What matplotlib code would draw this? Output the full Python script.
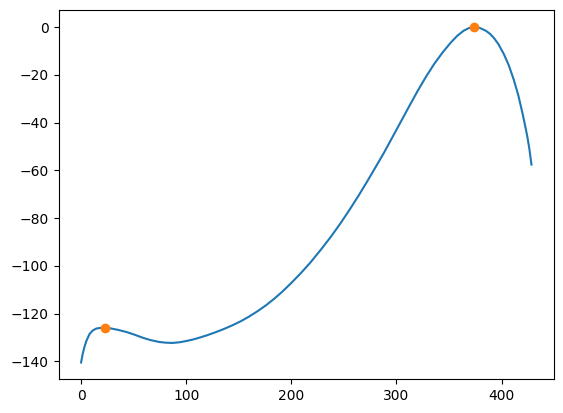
import numpy as np
import matplotlib.pyplot as plt

# curve
xs = [0, 1.5, 3.2, 5, 8, 11, 14.3, 18, 23, 28, 35, 43, 50, 58.6, 66, 74.4,
      81, 87, 94, 100, 107, 114, 120.4, 128, 136.2, 144, 152, 160, 167.9,
      176, 183.7, 191.5, 199.5, 209, 218, 228, 237.5, 246, 255, 264, 272.4,
      280, 288.2, 296, 304, 312, 320, 328, 336, 344, 351.5, 358, 364, 369,
      374, 379, 385, 389, 392.7, 397, 402.2, 407, 411.7, 416, 419.6, 422,
      424.4, 426.5, 428.5]
ys = [-140.5, -137.0, -134.0, -131.5, -128.6, -127.1, -126.3, -126.0, -125.9,
      -126.2, -126.8, -127.7, -128.7, -130.1, -131.1, -131.9, -132.2, -132.3,
      -132.0, -131.5, -130.8, -129.9, -129.0, -127.8, -126.4, -124.9, -123.2,
      -121.2, -119.0, -116.5, -113.8, -110.8, -107.4, -103.1, -98.7, -93.3,
      -87.9, -82.7, -76.8, -70.6, -64.5, -58.8, -52.6, -46.3, -39.8, -33.3,
      -26.9, -20.9, -15.4, -10.6, -6.6, -3.6, -1.5, -0.4, 0.0, -0.3, -1.5,
      -2.8, -4.5, -7.1, -11.3, -16.1, -22.1, -28.6, -35.4, -40.3, -45.5,
      -51.0, -57.6]
peak_x = [23, 374]
peak_y = [-125.9, 0.0]

fig = plt.figure(figsize=(5.63, 4.13), dpi=100)
ax = fig.add_axes([0.104, 0.0816, 0.88, 0.8934])
ax.plot(xs, ys)
ax.plot(peak_x, peak_y, 'o')
plt.savefig('out.png')
